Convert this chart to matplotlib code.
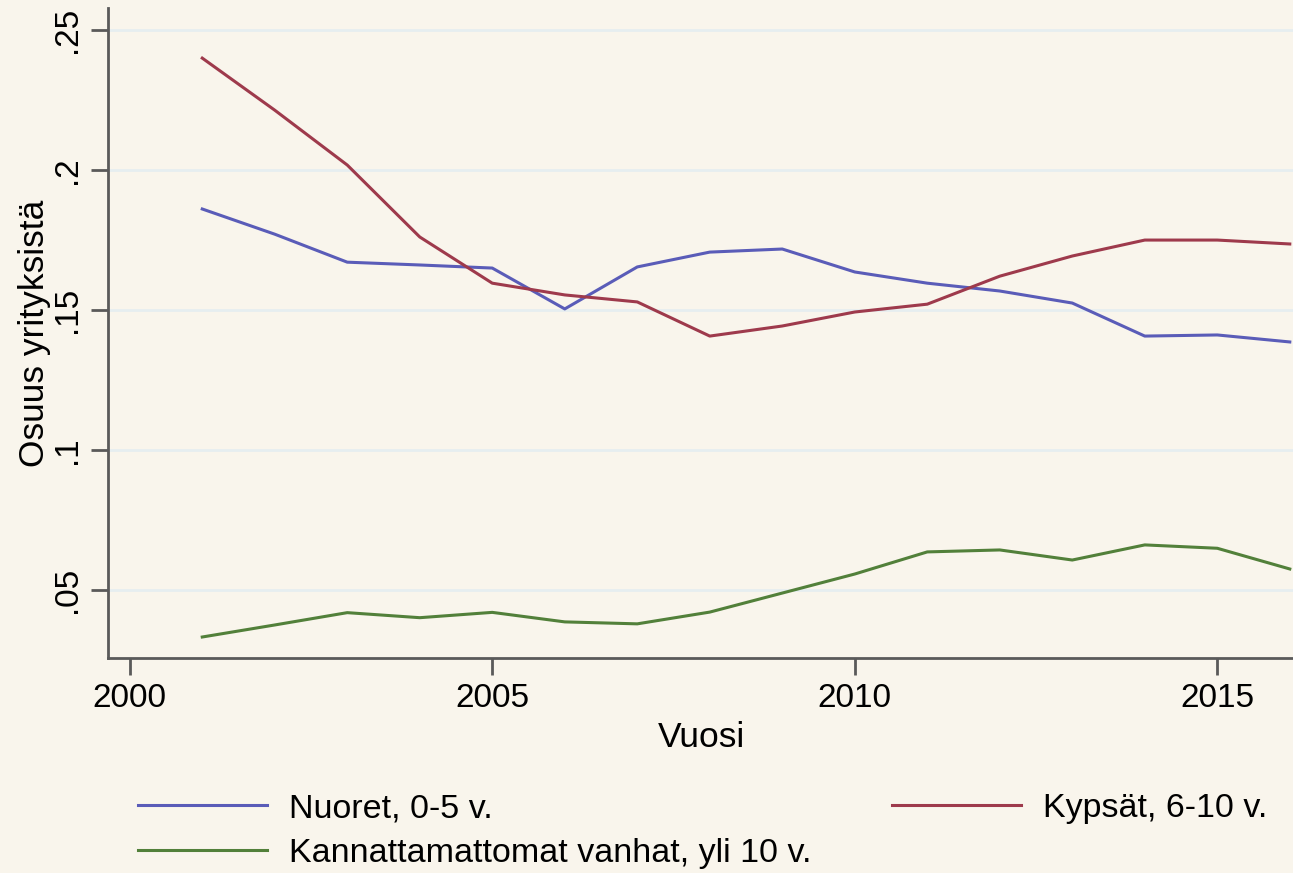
import numpy as np
import matplotlib.pyplot as plt
from matplotlib.ticker import FuncFormatter
from matplotlib.lines import Line2D

plt.rcParams['font.family'] = ['Liberation Sans', 'DejaVu Sans']

years = list(range(2001, 2017))
nuoret = [0.1861, 0.1771, 0.1671, 0.1661, 0.1650, 0.1504, 0.1654, 0.1707,
          0.1718, 0.1636, 0.1596, 0.1568, 0.1525, 0.1407, 0.1411, 0.1386]
kypsat = [0.2400, 0.2214, 0.2018, 0.1761, 0.1596, 0.1554, 0.1529, 0.1407,
          0.1443, 0.1493, 0.1521, 0.1621, 0.1693, 0.1750, 0.1750, 0.1736]
vanhat = [0.0332, 0.0375, 0.0419, 0.0401, 0.0420, 0.0386, 0.0379, 0.0421,
          0.0489, 0.0557, 0.0636, 0.0643, 0.0607, 0.0661, 0.0649, 0.0575]

labels = ['Nuoret, 0-5 v.', 'Kypsät, 6-10 v.', 'Kannattamattomat vanhat, yli 10 v.']
colors = ['#5a5cb8', '#9e3a4c', '#52803a']
y_ticks = [0.05, 0.1, 0.15, 0.2, 0.25]
x_ticks = [2000, 2005, 2010, 2015]

bg = '#f9f5ec'
spine_c = '#5a5a5a'

fig = plt.figure(figsize=(12.93, 8.73), dpi=100, facecolor=bg)
ax = fig.add_axes([108 / 1293, 215 / 873, 1.0 - 108 / 1293 + 0.002, 650 / 873])
ax.set_facecolor(bg)

for ys, c in zip([nuoret, kypsat, vanhat], colors):
    ax.plot(years, ys, color=c, linewidth=2.2, solid_joinstyle='round')

ax.set_xlim(1999.7, 2016.08)
ax.set_ylim(0.0257, 0.2579)

ax.set_yticks(y_ticks)
ax.set_xticks(x_ticks)
ax.yaxis.set_major_formatter(FuncFormatter(lambda v, p: ('%g' % v).lstrip('0')))
ax.grid(axis='y', color='#e6eef0', linewidth=2)
ax.set_axisbelow(True)

for s in ['top', 'right']:
    ax.spines[s].set_visible(False)
for s in ['left', 'bottom']:
    ax.spines[s].set_color(spine_c)
    ax.spines[s].set_linewidth(2)

ax.tick_params(axis='both', direction='out', length=12, width=2, color=spine_c,
               labelsize=24, pad=6)
for lab in ax.get_yticklabels():
    lab.set_rotation(90)
    lab.set_va('center')

ax.set_xlabel('Vuosi', fontsize=25.5, labelpad=5)
ax.set_ylabel('Osuus yrityksistä', fontsize=25.5, labelpad=1)

handles = [Line2D([], [], color=c, linewidth=2.2) for c in colors]
order = [0, 2, 1]
fig.legend([handles[i] for i in order], [labels[i] for i in order],
           loc='upper left', bbox_to_anchor=(138 / 1293, 1 - 793 / 873),
           ncol=2, frameon=False, fontsize=24.5, handlelength=3.8,
           handletextpad=0.65, columnspacing=2.35, labelspacing=0.42,
           borderaxespad=0, borderpad=0)

fig.savefig('out.png', dpi=100, facecolor=bg)
